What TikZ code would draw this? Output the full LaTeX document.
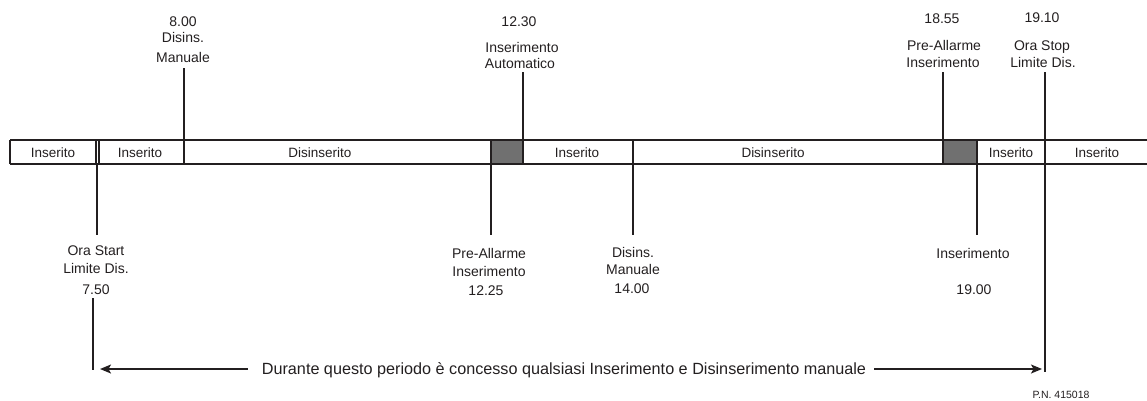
\documentclass[tikz,border=0pt]{standalone}
\usepackage{fontspec}
\setmainfont{Liberation Sans}
\usetikzlibrary{arrows.meta,calc}
\definecolor{ink}{HTML}{231F20}
\definecolor{shade}{HTML}{707070}
\begin{document}
\begin{tikzpicture}[x=1pt,y=-1pt,
  lbl/.style={inner sep=0pt,anchor=base,font=\fontsize{14}{16}\selectfont,text=ink},
  barlbl/.style={inner sep=0pt,anchor=base,font=\fontsize{13.5}{16}\selectfont,text=ink},
  biglbl/.style={inner sep=0pt,anchor=base,font=\fontsize{16.2}{18}\selectfont,text=ink},
  small/.style={inner sep=0pt,anchor=base,font=\fontsize{10.5}{12}\selectfont,text=ink},
  barline/.style={draw=ink,line width=1.7pt},
  lead/.style={draw=ink,line width=1.5pt},
  dark/.style={fill=shade,draw=ink,line width=1.7pt},
  arr/.style={draw=ink,line width=1.5pt,-{Stealth[length=11pt,width=9pt,inset=2.5pt]}}]
\useasboundingbox (0,0) rectangle (1147,400);

% ---- bar ----
\filldraw[dark] (491,140) rectangle (523,164);
\filldraw[dark] (943,140) rectangle (977,164);
\draw[barline] (10,140) -- (1147,140);
\draw[barline] (10,164) -- (1147,164);
\foreach \x in {10,96,99,184,491,523,633,943,977,1045}
  \draw[barline] (\x,140) -- (\x,164);

\node[barlbl] (i1) at (53,157) {Inserito};
\node[barlbl] (i2) at (140,157) {Inserito};
\node[barlbl] (d1) at (320,157) {Disinserito};
\node[barlbl] (i3) at (577,157) {Inserito};
\node[barlbl] (d2) at (773,157) {Disinserito};
\node[barlbl] (i4) at (1011,157) {Inserito};
\node[barlbl] (i5) at (1097,157) {Inserito};

% ---- top labels ----
\node[lbl] (a1) at (183,26) {8.00};
\node[lbl] (a2) at (183,42) {Disins.};
\node[lbl] (a3) at (183,62) {Manuale};

\node[lbl] (b1) at (519,26.5) {12.30};
\node[lbl] (b2) at (522,52) {Inserimento};
\node[lbl] (b3) at (520,68) {Automatico};

\node[lbl] (c1) at (942,23) {18.55};
\node[lbl] (c2) at (944,50) {Pre-Allarme};
\node[lbl] (c3) at (943,67) {Inserimento};

\node[lbl] (e1) at (1042,22) {19.10};
\node[lbl] (e2) at (1042,50) {Ora Stop};
\node[lbl] (e3) at (1043,67) {Limite Dis.};

% ---- bottom labels ----
\node[lbl] (f1) at (96,255) {Ora Start};
\node[lbl] (f2) at (96,273) {Limite Dis.};
\node[lbl] (f3) at (96,294) {7.50};

\node[lbl] (g1) at (489,258) {Pre-Allarme};
\node[lbl] (g2) at (489,276) {Inserimento};
\node[lbl] (g3) at (486,295) {12.25};

\node[lbl] (h1) at (633,257) {Disins.};
\node[lbl] (h2) at (633,274) {Manuale};
\node[lbl] (h3) at (632,293) {14.00};

\node[lbl] (k1) at (973,258) {Inserimento};
\node[lbl] (k2) at (974,294) {19.00};

\node[small] (pn) at (1061,398) {P.N. 415018};

% ---- leader lines ----
\coordinate (ta) at (184,68);   \coordinate (ba) at (184,140);
\coordinate (tb) at (523,72);   \coordinate (bb) at (523,140);
\coordinate (tc) at (943,72);   \coordinate (bc) at (943,140);
\coordinate (te) at (1045,72);  \coordinate (be) at (1045,372);
\coordinate (uf) at (97,164);   \coordinate (lf) at (97,235);
\coordinate (uf2) at (93,298);  \coordinate (lf2) at (93,370);
\coordinate (ug) at (491,164);  \coordinate (lg) at (491,235);
\coordinate (uh) at (633,164);  \coordinate (lh) at (633,235);
\coordinate (uk) at (977,164);  \coordinate (lk) at (977,235);
\draw[lead] (ta) -- (ba);
\draw[lead] (tb) -- (bb);
\draw[lead] (tc) -- (bc);
\draw[lead] (te) -- (be);
\draw[lead] (uf) -- (lf);
\draw[lead] (uf2) -- (lf2);
\draw[lead] (ug) -- (lg);
\draw[lead] (uh) -- (lh);
\draw[lead] (uk) -- (lk);

% ---- period arrow ----
\node[biglbl] (dur) at (564,374) {Durante questo periodo è concesso qualsiasi Inserimento e Disinserimento manuale};
\coordinate (lt) at (100,369);
\coordinate (rt) at (1042,369);
\coordinate (dl) at ($(dur.west)+(-14,0)$);
\coordinate (dr) at ($(dur.east)+(8,0)$);
\draw[arr] (dl |- lt) -- (lt);
\draw[arr] (dr |- rt) -- (rt);
\end{tikzpicture}
\end{document}
